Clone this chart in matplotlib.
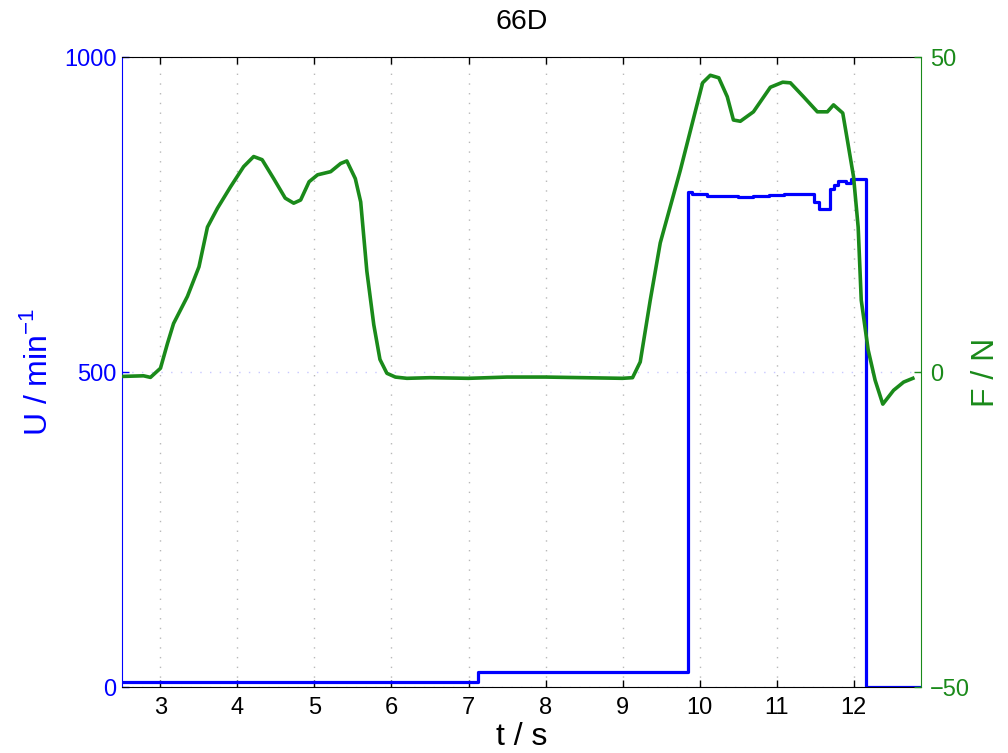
import numpy as np
import matplotlib
matplotlib.use('Agg')
import matplotlib.pyplot as plt

plt.rcParams['font.family'] = ['Liberation Sans', 'DejaVu Sans']
plt.rcParams['mathtext.fontset'] = 'custom'
plt.rcParams['mathtext.rm'] = 'Liberation Sans'

# Drehzahl U (Stufenverlauf)
t_U = [2.5, 7.12, 9.85, 9.9, 10.1, 10.3, 10.5, 10.7, 10.9, 11.1, 11.3,
       11.48, 11.55, 11.7, 11.74, 11.8, 11.9, 11.97, 12.16, 12.88]
U = [8, 24, 786, 782, 780, 779, 778, 779, 781, 782, 783,
     770, 758, 790, 797, 803, 800, 806, 0, 0]

# Kraft F
t_F = [2.5, 2.78, 2.87, 3.0, 3.09, 3.17, 3.35, 3.5, 3.61, 3.74, 3.91, 4.08,
       4.21, 4.32, 4.47, 4.62, 4.73, 4.82, 4.93, 5.04, 5.21, 5.34, 5.42,
       5.53, 5.6, 5.68, 5.77, 5.85, 5.94, 6.05, 6.2, 6.5, 7.0, 7.5, 8.0,
       8.5, 9.0, 9.13, 9.23, 9.36, 9.49, 9.75, 9.95, 10.04, 10.14, 10.25,
       10.36, 10.44, 10.53, 10.7, 10.92, 11.08, 11.18, 11.35, 11.53, 11.66,
       11.74, 11.86, 11.92, 12.0, 12.06, 12.1, 12.19, 12.28, 12.38, 12.52,
       12.65, 12.77]
F = [-0.7, -0.6, -0.85, 0.6, 4.5, 7.7, 12.0, 16.7, 23.0, 26.0, 29.4, 32.6,
     34.2, 33.7, 30.7, 27.6, 26.8, 27.3, 30.2, 31.3, 31.8, 33.1, 33.5,
     30.7, 27.0, 16.0, 7.5, 2.0, -0.2, -0.8, -1.0, -0.9, -1.0, -0.8, -0.8,
     -0.9, -1.0, -0.9, 1.6, 11.4, 20.5, 32.0, 41.6, 45.9, 47.1, 46.7,
     43.7, 40.0, 39.8, 41.3, 45.2, 46.0, 45.9, 43.7, 41.3, 41.3,
     42.4, 41.1, 36.8, 31.0, 23.0, 11.4, 3.5, -1.3, -5.1, -2.9,
     -1.6, -1.0]

blue = '#0000ff'
green = '#1a8a1a'

fig = plt.figure(figsize=(10.08, 7.53), dpi=100)
ax1 = fig.add_axes([0.121, 0.0876, 0.793, 0.8367])
ax2 = ax1.twinx()

ax1.step(t_U, U, where='post', color=blue, lw=2.3)
ax2.plot(t_F, F, color=green, lw=2.6)

ax1.set_xlim(2.5, 12.88)
ax1.set_ylim(0, 1000)
ax2.set_ylim(-50, 50)
ax1.set_xticks(range(3, 13))
ax1.set_yticks([0, 500, 1000])
ax2.set_yticks([-50, 0, 50])
ax2.set_yticklabels(['\u221250', '0', '50'])

# Gitter
ax1.grid(axis='x', linestyle=(0, (1, 6)), color='0.72', lw=1)
ax1.grid(axis='y', linestyle=(0, (1, 6)), color='#c8c8ff', lw=1)

ax1.tick_params(axis='x', direction='in', top=True, length=5, width=1,
                labelsize=17, pad=7, colors='black')
ax1.tick_params(axis='y', direction='in', length=5, width=1,
                labelsize=17, pad=4, colors=blue)
ax2.tick_params(axis='y', direction='in', length=5, width=1,
                labelsize=17, pad=6, colors=green)

for s in ['top', 'bottom']:
    ax1.spines[s].set_color('black')
ax1.spines['left'].set_color(blue)
ax1.spines['right'].set_visible(False)
for s in ['top', 'bottom', 'left']:
    ax2.spines[s].set_visible(False)
ax2.spines['right'].set_color(green)

ax1.set_title('66D', fontsize=20.5, pad=20)
ax1.set_xlabel('t / s', fontsize=23)
ax1.xaxis.set_label_coords(0.5, -0.056)
ax1.set_ylabel('U / min$^{-1}$', fontsize=23, color=blue)
ax1.yaxis.set_label_coords(-0.085, 0.5)
ax2.set_ylabel('F / N', fontsize=23, color=green)
ax2.yaxis.set_label_coords(1.062, 0.5)

fig.savefig('out.png', dpi=100)
